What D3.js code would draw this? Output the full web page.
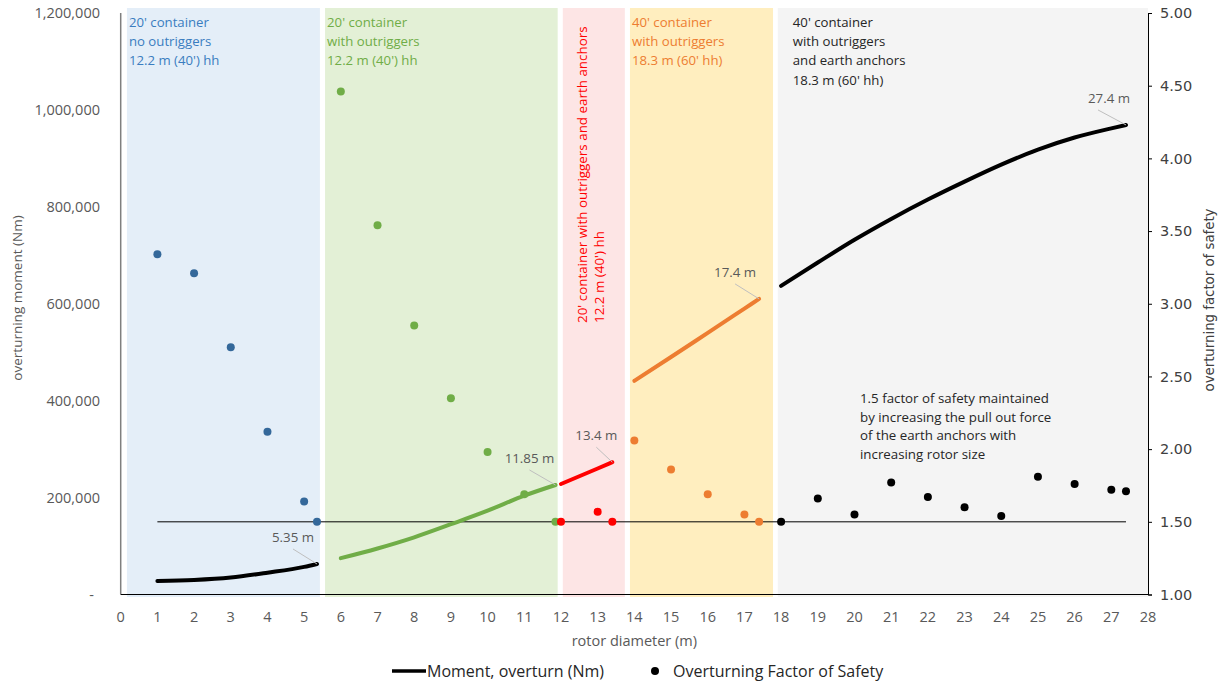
<!DOCTYPE html>
<html>
<head>
<meta charset="utf-8">
<script src="https://cdn.jsdelivr.net/npm/d3@7"></script>
<style>
  body { margin: 0; background: #fff; }
  svg { font-family: "Open Sans", sans-serif; }
</style>
</head>
<body>
<svg id="chart" width="1227" height="685"></svg>
<script>
// configuration bands (rotor diameter ranges)
var bandStart = [0.17, 5.57, 12.05, 13.88, 17.91];
var bandEnd = [5.43, 11.91, 13.74, 17.78, 28];
var bandFill = ["#e4eef8", "#e3f0d6", "#fde5e5", "#ffeebf", "#f4f4f4"];
var bandText = ["#3a7dc0", "#70ad47", "#ff0000", "#ed7d31", "#262626"];
var bandLabels = [
  ["20' container", "no outriggers", "12.2 m (40') hh"],
  ["20' container", "with outriggers", "12.2 m (40') hh"],
  ["20' container with outriggers and earth anchors", "12.2 m (40') hh"],
  ["40' container", "with outriggers", "18.3 m (60' hh)"],
  ["40' container", "with outriggers", "and earth anchors", "18.3 m (60' hh)"]
];

// moment (Nm) and factor of safety per segment
var diam = [
  [1, 2, 3, 4, 5, 5.35],
  [6, 7, 8, 9, 10, 11, 11.85],
  [12, 13, 13.4],
  [14, 15, 16, 17, 17.4],
  [18, 19, 20, 21, 22, 23, 24, 25, 26, 27, 27.4]
];
var moment = [
  [28000, 30000, 35000, 45000, 57000, 63000],
  [75000, 95000, 118000, 145000, 173000, 204000, 226000],
  [228000, 260000, 273000],
  [441000, 490000, 540000, 590000, 610000],
  [637000, 685000, 732000, 775000, 815000, 852000, 887000, 918000, 943000, 962000, 969000]
];
var safety = [
  [3.34, 3.21, 2.70, 2.12, 1.64, 1.50],
  [4.46, 3.54, 2.85, 2.35, 1.98, 1.69, 1.50],
  [1.50, 1.57, 1.50],
  [2.06, 1.86, 1.69, 1.55, 1.50],
  [1.50, 1.66, 1.55, 1.77, 1.67, 1.60, 1.54, 1.81, 1.76, 1.72, 1.71]
];
var lineColor = ["#000000", "#70ad47", "#ff0000", "#ed7d31", "#000000"];
var dotColor = ["#34689a", "#70ad47", "#ff0000", "#ed7d31", "#000000"];
var endLabels = ["5.35 m", "11.85 m", "13.4 m", "17.4 m", "27.4 m"];
var labelDx = [-24, -26, -16, -24, -17];

var xTicks = d3.range(0, 29);
var leftTicks = [0, 200000, 400000, 600000, 800000, 1000000, 1200000];
var rightTicks = [1, 1.5, 2, 2.5, 3, 3.5, 4, 4.5, 5];
var minSafety = 1.5;
var note = ["1.5 factor of safety maintained", "by increasing the pull out force",
            "of the earth anchors with", "increasing rotor size"];

var svg = d3.select("#chart");
var x = d3.scaleLinear().domain([0, 28]).range([120.7, 1148]);
var yL = d3.scaleLinear().domain([0, 1200000]).range([594.5, 13]);
var yR = d3.scaleLinear().domain([1, 5]).range([594.5, 13]);
var grey = "#595959";

// bands
svg.append("g").selectAll("rect").data(bandStart).join("rect")
  .attr("x", d => x(d))
  .attr("y", 8)
  .attr("width", (d, i) => x(bandEnd[i]) - x(d))
  .attr("height", 597 - 8)
  .attr("fill", (d, i) => bandFill[i]);

// band labels
bandLabels.forEach(function (lines, i) {
  if (i == 2) {
    var g = svg.append("g")
      .attr("transform", "translate(" + (x(bandStart[i]) + 24) + ",323) rotate(-90)");
    lines.forEach(function (t, j) {
      g.append("text").attr("x", 0).attr("y", j * 17)
        .attr("font-size", 13.4).attr("fill", bandText[i]).text(t);
    });
  } else {
    lines.forEach(function (t, j) {
      svg.append("text")
        .attr("x", x(bandStart[i]) + (i == 4 ? 15 : 2))
        .attr("y", 27 + j * 19.2)
        .attr("font-size", 13.2)
        .attr("fill", bandText[i])
        .text(t);
    });
  }
});

// axes lines
svg.append("line").attr("x1", x(0)).attr("x2", x(0)).attr("y1", 13).attr("y2", 594.5)
  .attr("stroke", "#7f7f7f").attr("stroke-width", 1.5);
svg.append("line").attr("x1", x(0)).attr("x2", x(28)).attr("y1", 594.5).attr("y2", 594.5)
  .attr("stroke", "#000").attr("stroke-width", 1.2);

// right axis
var rAxis = svg.append("g").attr("transform", "translate(" + x(28) + ",0)")
  .call(d3.axisRight(yR).tickValues(rightTicks).tickFormat(d3.format(".2f")).tickSizeOuter(4).tickSize(4).tickPadding(8));
rAxis.select(".domain").attr("stroke", "#000");
rAxis.selectAll("text").attr("font-family", "DejaVu Sans").attr("font-size", 14.5).attr("fill", "#404040");

// left tick labels
svg.append("g").selectAll("text").data(leftTicks).join("text")
  .attr("x", d => d == 0 ? 94 : 100)
  .attr("y", d => yL(d) + 5)
  .attr("text-anchor", "end")
  .attr("font-size", 14.5)
  .attr("fill", grey)
  .text(d => d == 0 ? "-" : d3.format(",")(d));

// x tick labels
svg.append("g").selectAll("text").data(xTicks).join("text")
  .attr("x", d => x(d))
  .attr("y", 622)
  .attr("text-anchor", "middle")
  .attr("font-size", 14.5)
  .attr("fill", grey)
  .text(d => d);

// axis titles
svg.append("text").attr("x", x(14)).attr("y", 646).attr("text-anchor", "middle")
  .attr("font-size", 14.5).attr("fill", grey).text("rotor diameter (m)");
svg.append("text").attr("transform", "translate(22,298) rotate(-90)").attr("text-anchor", "middle")
  .attr("font-size", 13.5).attr("fill", grey).text("overturning moment (Nm)");
svg.append("text").attr("transform", "translate(1214,300) rotate(-90)").attr("text-anchor", "middle")
  .attr("font-family", "DejaVu Sans").attr("font-size", 13.3).attr("fill", "#404040")
  .text("overturning factor of safety");

// 1.5 reference line
svg.append("line").attr("x1", x(1)).attr("x2", x(27.4))
  .attr("y1", yR(minSafety)).attr("y2", yR(minSafety))
  .attr("stroke", "#000").attr("stroke-width", 1);

// moment lines
var line = d3.line().curve(d3.curveMonotoneX).x(d => x(d[0])).y(d => yL(d[1]));
diam.forEach(function (xs, i) {
  svg.append("path")
    .datum(xs.map((v, j) => [v, moment[i][j]]))
    .attr("d", line)
    .attr("fill", "none")
    .attr("stroke", lineColor[i])
    .attr("stroke-width", 4)
    .attr("stroke-linecap", "round");
});

// factor of safety dots
diam.forEach(function (xs, i) {
  svg.append("g").selectAll("circle").data(xs).join("circle")
    .attr("cx", d => x(d))
    .attr("cy", (d, j) => yR(safety[i][j]))
    .attr("r", 4)
    .attr("fill", dotColor[i]);
});

// end labels with leader lines
diam.forEach(function (xs, i) {
  var n = xs.length - 1;
  var px = x(xs[n]), py = yL(moment[i][n]);
  svg.append("line").attr("x1", px).attr("y1", py)
    .attr("x2", px + labelDx[i] - (i == 4 ? 11 : 0)).attr("y2", py - 15)
    .attr("stroke", "#bfbfbf").attr("stroke-width", 1);
  svg.append("text").attr("x", px + labelDx[i]).attr("y", py - 22)
    .attr("text-anchor", "middle").attr("font-size", 13.3).attr("fill", grey)
    .text(endLabels[i]);
});

// note
note.forEach(function (t, j) {
  svg.append("text").attr("x", 860).attr("y", 403 + j * 18.5)
    .attr("font-size", 13.3).attr("fill", "#262626").text(t);
});

// legend
var lg = svg.append("g");
lg.append("line").attr("x1", 392).attr("x2", 426).attr("y1", 671).attr("y2", 671)
  .attr("stroke", "#000").attr("stroke-width", 3.5);
lg.append("text").attr("x", 427).attr("y", 677).attr("font-size", 16).attr("fill", "#262626")
  .text("Moment, overturn (Nm)");
lg.append("circle").attr("cx", 655).attr("cy", 671).attr("r", 4).attr("fill", "#000");
lg.append("text").attr("x", 673).attr("y", 677).attr("font-size", 16).attr("fill", "#262626")
  .text("Overturning Factor of Safety");
</script>
</body>
</html>
